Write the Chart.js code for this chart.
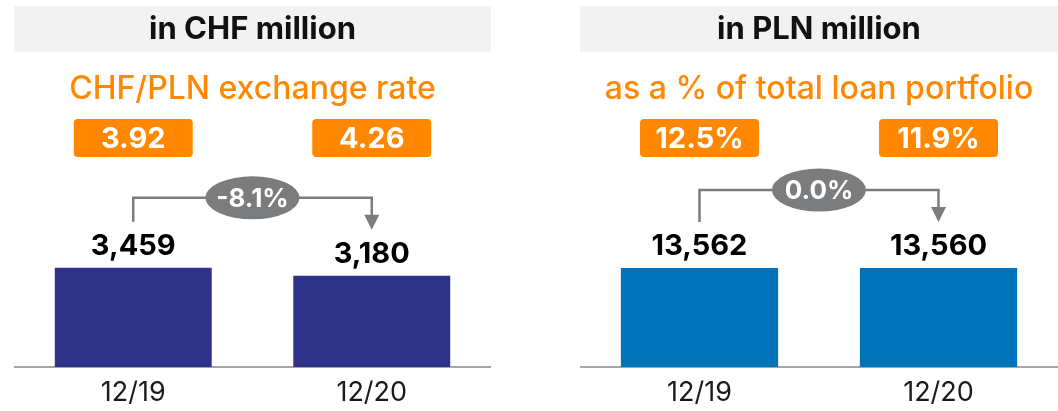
<!DOCTYPE html>
<html>
<head>
<meta charset="utf-8">
<script src="https://cdn.jsdelivr.net/npm/chart.js@4"></script>
<style>
  body { margin: 0; background: #fff; }
  .panel { position: absolute; top: 0; }
  #chfPanel { left: 14px; }
  #plnPanel { left: 580px; }
</style>
</head>
<body>
<div class="panel" id="chfPanel"><canvas id="chfChart" width="477" height="411"></canvas></div>
<div class="panel" id="plnPanel"><canvas id="plnChart" width="478" height="411"></canvas></div>
<script>
"use strict";

// data
const categories = ["12/19", "12/20"];
const chfValues = [3459, 3180];
const plnValues = [13562, 13560];
const fxRates = ["3.92", "4.26"];
const loanShares = ["12.5%", "11.9%"];
const chfChange = "-8.1%";
const plnChange = "0.0%";

const chfMax = 12800;
const plnMax = 50300;

const FONT = "Inter, 'Open Sans', sans-serif";
const ORANGE = "#FF8800";
const GREY = "#7A7C7D";

// draws header, orange boxes, value labels and the change bracket
const decorPlugin = {
  id: "decor",
  afterDatasetsDraw(chart, args, opts) {
    const ctx = chart.ctx;
    const w = chart.width;
    const bars = chart.getDatasetMeta(0).data;
    const values = chart.data.datasets[0].data;
    ctx.save();

    // header
    ctx.fillStyle = "#F2F2F2";
    ctx.fillRect(0, 6, w, 46);
    ctx.fillStyle = "#111";
    ctx.textAlign = "center";
    ctx.textBaseline = "middle";
    ctx.font = "bold 31px " + FONT;
    ctx.fillText(opts.header, w / 2, 30);

    // subtitle
    ctx.fillStyle = ORANGE;
    ctx.font = "500 32px " + FONT;
    ctx.fillText(opts.subtitle, w / 2, 89);

    bars.forEach((bar, i) => {
      // orange box
      ctx.fillStyle = ORANGE;
      ctx.beginPath();
      ctx.roundRect(bar.x - 59.5, 119, 119, 38, 4);
      ctx.fill();
      ctx.fillStyle = "#fff";
      ctx.font = "bold 29px " + FONT;
      ctx.textBaseline = "middle";
      ctx.fillText(opts.boxes[i], bar.x, 139);

      // value label
      ctx.fillStyle = "#000";
      ctx.font = "bold 29px " + FONT;
      ctx.textBaseline = "alphabetic";
      ctx.fillText(values[i].toLocaleString("en-US"), bar.x, bar.y - 13);
    });

    // bracket with arrow
    const a = bars[0], b = bars[1];
    const topY = Math.min(a.y, b.y) - opts.bracketRise;
    const aEnd = a.y - 46;
    const bEnd = b.y - 46;
    ctx.strokeStyle = GREY;
    ctx.lineWidth = 2.5;
    ctx.beginPath();
    ctx.moveTo(a.x, aEnd);
    ctx.lineTo(a.x, topY);
    ctx.lineTo(b.x, topY);
    ctx.lineTo(b.x, bEnd - 14);
    ctx.stroke();
    ctx.fillStyle = GREY;
    ctx.beginPath();
    ctx.moveTo(b.x - 7.5, bEnd - 15);
    ctx.lineTo(b.x + 7.5, bEnd - 15);
    ctx.lineTo(b.x, bEnd);
    ctx.closePath();
    ctx.fill();

    // oval with change
    const cx = (a.x + b.x) / 2;
    ctx.beginPath();
    ctx.ellipse(cx, topY, 47, 21.5, 0, 0, Math.PI * 2);
    ctx.fill();
    ctx.fillStyle = "#fff";
    ctx.font = "bold 26px " + FONT;
    ctx.textBaseline = "middle";
    ctx.fillText(opts.change, cx, topY + 1);

    ctx.restore();
  }
};

function makeChart(id, values, color, yMax, decor) {
  return new Chart(document.getElementById(id), {
    type: "bar",
    data: {
      labels: categories,
      datasets: [{
        data: values,
        backgroundColor: color,
        borderWidth: 0,
        categoryPercentage: 1,
        barPercentage: 0.658
      }]
    },
    options: {
      responsive: false,
      animation: false,
      layout: { padding: 0 },
      plugins: {
        legend: { display: false },
        tooltip: { enabled: false },
        decor: decor
      },
      scales: {
        x: {
          grid: { display: false, drawTicks: false },
          border: { display: true, color: "#A6A6A6", width: 2 },
          ticks: { color: "#1a1a1a", padding: 10, font: { family: FONT, size: 27 } },
          afterFit: (scale) => { scale.height = 44; }
        },
        y: { display: false, min: 0, max: yMax }
      }
    },
    plugins: [decorPlugin]
  });
}

makeChart("chfChart", chfValues, "#2E3389", chfMax, {
  header: "in CHF million",
  subtitle: "CHF/PLN exchange rate",
  boxes: fxRates,
  change: chfChange,
  bracketRise: 70
});

makeChart("plnChart", plnValues, "#0073BA", plnMax, {
  header: "in PLN million",
  subtitle: "as a % of total loan portfolio",
  boxes: loanShares,
  change: plnChange,
  bracketRise: 78
});
</script>
</body>
</html>
